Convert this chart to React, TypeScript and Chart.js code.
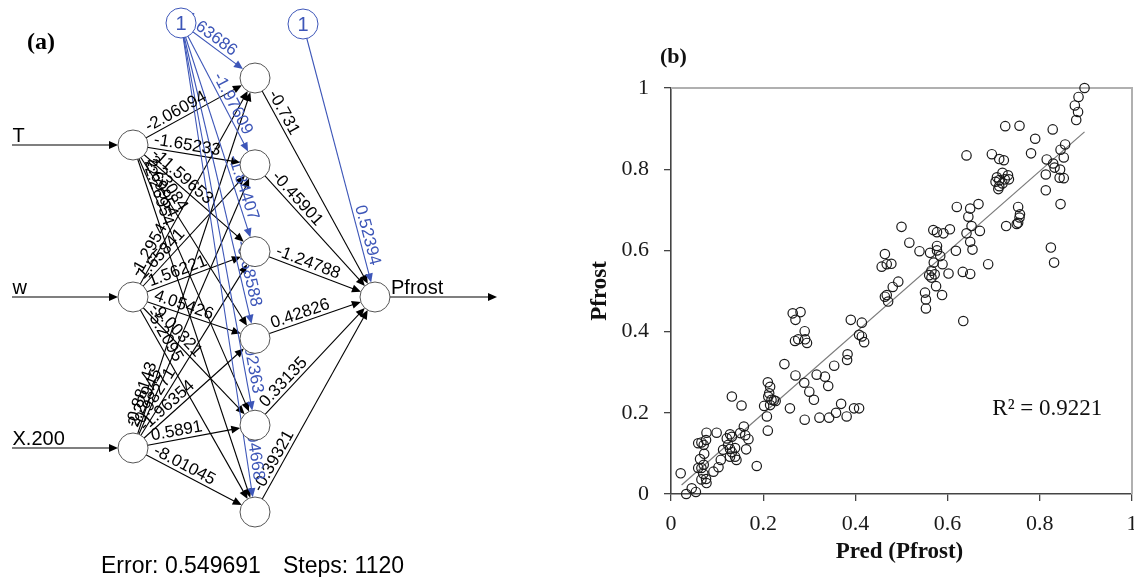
import React, { useEffect, useRef } from 'react';
import { Chart, registerables } from 'chart.js';
Chart.register(...registerables);

// ---------- Panel (a): neural network weights ----------
const inputNames = ['T', 'w', 'X.200'];
const outputName = 'Pfrost';
const weightsFromT = [-2.06094, -1.65233, -11.59653, 2.23084, 2.69954, -2.26954];
const weightsFromW = [-1.2954, 1.65841, 1.56221, 4.05426, -9.00321, -5.2095];
const weightsFromX200 = [-0.88143, 2.22945, -0.98271, -1.96354, 0.5891, -8.01045];
const biasToHidden = [-1.63686, -1.97609, -1.84407, -0.68588, 1.02363, -0.94668];
const hiddenToOutput = [-0.731, -0.45901, -1.24788, 0.42826, 0.33135, -0.39321];
const biasToOutput = 0.52394;
const errorValue = 0.549691;
const stepsValue = 1120;

// ---------- Panel (b): predicted vs observed ----------
const predX = [
  0.021, 0.033, 0.045, 0.054, 0.059, 0.066, 0.071, 0.077, 0.076, 0.072,
  0.063, 0.059, 0.066, 0.071, 0.070, 0.076, 0.066, 0.077, 0.092, 0.103,
  0.108, 0.099, 0.113, 0.132, 0.153, 0.121, 0.128, 0.132, 0.124, 0.128,
  0.132, 0.139, 0.142, 0.128, 0.139, 0.150, 0.158, 0.161, 0.168, 0.163,
  0.186, 0.210, 0.215, 0.213, 0.211, 0.218, 0.223, 0.227, 0.215, 0.202,
  0.208, 0.210, 0.246, 0.264, 0.281, 0.270, 0.290, 0.269, 0.276, 0.291,
  0.295, 0.270, 0.258, 0.289, 0.300, 0.310, 0.290, 0.316, 0.322, 0.334,
  0.341, 0.343, 0.354, 0.358, 0.369, 0.381, 0.382, 0.383, 0.390, 0.397,
  0.408, 0.414, 0.408, 0.414, 0.419,
  0.468, 0.471, 0.464, 0.481, 0.493, 0.551, 0.553, 0.553, 0.575, 0.588,
  0.634, 0.464, 0.457, 0.468, 0.478, 0.500, 0.517, 0.539, 0.562, 0.577,
  0.577, 0.584, 0.570, 0.589, 0.565, 0.560, 0.572, 0.565, 0.602, 0.633,
  0.649, 0.569, 0.577, 0.591, 0.605, 0.620, 0.649, 0.667, 0.645, 0.652,
  0.641, 0.670, 0.649, 0.654, 0.688, 0.618, 0.641, 0.696, 0.712, 0.722,
  0.725, 0.756, 0.719, 0.731, 0.707, 0.712, 0.724, 0.704, 0.733, 0.712,
  0.719, 0.710, 0.753, 0.757, 0.756, 0.753, 0.750, 0.727, 0.781, 0.790,
  0.828, 0.855, 0.845, 0.852, 0.815, 0.829, 0.832, 0.844, 0.813, 0.843,
  0.852, 0.813, 0.845, 0.824, 0.831, 0.897, 0.884, 0.876, 0.883, 0.879,
];
const obsY = [
  0.051, 0.000, 0.014, 0.005, 0.125, 0.127, 0.121, 0.151, 0.133, 0.099,
  0.086, 0.064, 0.064, 0.072, 0.050, 0.037, 0.036, 0.027, 0.055, 0.066,
  0.084, 0.151, 0.109, 0.240, 0.218, 0.137, 0.147, 0.141, 0.121, 0.111,
  0.103, 0.092, 0.084, 0.092, 0.113, 0.150, 0.166, 0.145, 0.135, 0.110,
  0.069, 0.275, 0.264, 0.248, 0.240, 0.232, 0.231, 0.229, 0.219, 0.217,
  0.191, 0.156, 0.320, 0.445, 0.448, 0.429, 0.401, 0.377, 0.381, 0.381,
  0.372, 0.292, 0.211, 0.274, 0.252, 0.232, 0.183, 0.294, 0.188, 0.289,
  0.266, 0.188, 0.316, 0.200, 0.222, 0.191, 0.330, 0.344, 0.429, 0.211,
  0.211, 0.422, 0.392, 0.388, 0.374,
  0.490, 0.474, 0.486, 0.510, 0.523, 0.496, 0.479, 0.457, 0.512, 0.490,
  0.426, 0.591, 0.560, 0.566, 0.567, 0.658, 0.619, 0.598, 0.594, 0.611,
  0.600, 0.586, 0.570, 0.566, 0.550, 0.539, 0.541, 0.533, 0.543, 0.547,
  0.542, 0.650, 0.645, 0.642, 0.652, 0.707, 0.703, 0.714, 0.683, 0.660,
  0.642, 0.648, 0.621, 0.602, 0.566, 0.599, 0.834, 0.837, 0.825, 0.822,
  0.906, 0.907, 0.791, 0.785, 0.780, 0.773, 0.775, 0.769, 0.775, 0.758,
  0.765, 0.751, 0.707, 0.689, 0.681, 0.668, 0.665, 0.660, 0.839, 0.875,
  0.898, 0.861, 0.848, 0.829, 0.824, 0.814, 0.804, 0.799, 0.787, 0.779,
  0.778, 0.748, 0.714, 0.607, 0.570, 1.000, 0.978, 0.957, 0.941, 0.921,
];
const trendX = [0.023, 0.897];
const trendY = [0.022, 0.892];
const rSquared = '0.9221';
const xAxisTitle = 'Pred (Pfrost)';
const yAxisTitle = 'Pfrost';

// ---------- layout (diagram units = px of left canvas) ----------
const NET = {
  w: 540, h: 577, inX: 133, hidX: 255, outX: 375,
  inY: [145, 297, 448], hidTop: 78, hidBottom: 512, outY: 297,
  bias1: [181, 23], bias2: [303, 24], r: 15,
};
const BLUE = '#3d56b8';
const SANS = '"Liberation Sans", Arial, sans-serif';
const SERIF = '"Liberation Serif", "Times New Roman", serif';

const fmt = (v: number) => String(parseFloat(v.toFixed(5)));
const hiddenY = (j: number) => NET.hidTop + (j * (NET.hidBottom - NET.hidTop)) / (biasToHidden.length - 1);

const netPlugin = {
  id: 'netPlugin',
  beforeDatasetsDraw(chart: any) {
    const ctx = chart.ctx;
    const sx = chart.scales.x, sy = chart.scales.y;
    const P = (x: number, y: number) => [sx.getPixelForValue(x), sy.getPixelForValue(y)];
    const R = NET.r;

    const arrowLine = (a: number[], tip: number[], color: string) => {
      const dx = tip[0] - a[0], dy = tip[1] - a[1];
      const L = Math.hypot(dx, dy); const ux = dx / L, uy = dy / L;
      ctx.strokeStyle = color; ctx.lineWidth = 1.1;
      ctx.beginPath(); ctx.moveTo(a[0], a[1]); ctx.lineTo(tip[0] - ux * 5, tip[1] - uy * 5); ctx.stroke();
      const hl = 9, hw = 4;
      ctx.fillStyle = color;
      ctx.beginPath();
      ctx.moveTo(tip[0], tip[1]);
      ctx.lineTo(tip[0] - ux * hl - uy * hw, tip[1] - uy * hl + ux * hw);
      ctx.lineTo(tip[0] - ux * hl + uy * hw, tip[1] - uy * hl - ux * hw);
      ctx.closePath(); ctx.fill();
    };

    const labels: any[] = [];
    const edge = (a: number[], b: number[], color: string, w: number, mode: 'start' | 'end') => {
      const dx = b[0] - a[0], dy = b[1] - a[1];
      const L = Math.hypot(dx, dy); const ux = dx / L, uy = dy / L;
      arrowLine(a, [b[0] - ux * R, b[1] - uy * R], color);
      const ang = Math.atan2(dy, dx);
      if (mode === 'start') labels.push({ x: a[0] + ux * 20, y: a[1] + uy * 20, ang, align: 'left', color, text: fmt(w) });
      else labels.push({ x: b[0] - ux * 31, y: b[1] - uy * 31, ang, align: 'right', color, text: fmt(w) });
    };

    const inW = [weightsFromT, weightsFromW, weightsFromX200];
    inputNames.forEach((_, i) => {
      hiddenToOutput.forEach((__, j) => {
        edge(P(NET.inX, NET.inY[i]), P(NET.hidX, hiddenY(j)), '#000', inW[i][j], 'start');
      });
    });
    hiddenToOutput.forEach((w, j) => edge(P(NET.hidX, hiddenY(j)), P(NET.outX, NET.outY), '#000', w, 'start'));
    biasToHidden.forEach((w, j) => edge(P(NET.bias1[0], NET.bias1[1]), P(NET.hidX, hiddenY(j)), BLUE, w, 'end'));
    edge(P(NET.bias2[0], NET.bias2[1]), P(NET.outX, NET.outY), BLUE, biasToOutput, 'end');

    // input / output arrows
    inputNames.forEach((name, i) => {
      const s = P(12, NET.inY[i]); const t = P(NET.inX - R, NET.inY[i]);
      arrowLine(s, t, '#000');
      ctx.fillStyle = '#000'; ctx.font = `20px ${SANS}`; ctx.textAlign = 'left'; ctx.textBaseline = 'alphabetic';
      ctx.fillText(name, s[0] + 0.5, s[1] - 3.5);
    });
    const o = P(NET.outX, NET.outY); const ot = P(497, NET.outY);
    arrowLine(o, ot, '#000');
    ctx.fillStyle = '#000'; ctx.font = `20px ${SANS}`; ctx.textAlign = 'left'; ctx.textBaseline = 'alphabetic';
    ctx.fillText(outputName, o[0] + 16, o[1] - 3.5);

    // weight labels
    ctx.font = `17px ${SANS}`;
    ctx.textBaseline = 'bottom';
    labels.forEach((l) => {
      ctx.save();
      ctx.translate(l.x, l.y);
      ctx.rotate(l.ang);
      ctx.fillStyle = l.color;
      ctx.textAlign = l.align;
      ctx.fillText(l.text, 0, 0);
      ctx.restore();
    });
  },
  afterDatasetsDraw(chart: any) {
    const ctx = chart.ctx;
    const sx = chart.scales.x, sy = chart.scales.y;
    ctx.save();
    ctx.fillStyle = BLUE; ctx.font = `20px ${SANS}`; ctx.textAlign = 'center'; ctx.textBaseline = 'middle';
    [NET.bias1, NET.bias2].forEach((b) => ctx.fillText('1', sx.getPixelForValue(b[0]), sy.getPixelForValue(b[1]) + 1));
    ctx.fillStyle = '#000'; ctx.font = `bold 24px ${SERIF}`; ctx.textAlign = 'left';
    ctx.fillText('(a)', 27, 42.5);
    ctx.font = `23px ${SANS}`; ctx.textBaseline = 'alphabetic';
    ctx.fillText(`Error: ${errorValue}`, 101, 573);
    ctx.fillText(`Steps: ${stepsValue}`, 283, 573);
    ctx.restore();
  },
};

const scatterPlugin = {
  id: 'scatterDecor',
  beforeDatasetsDraw(chart: any) {
    const { ctx, chartArea: a } = chart;
    ctx.save();
    ctx.strokeStyle = '#b0b0b0'; ctx.lineWidth = 2;
    ctx.beginPath(); ctx.moveTo(a.left, a.top); ctx.lineTo(a.right, a.top); ctx.lineTo(a.right, a.bottom); ctx.stroke();
    ctx.restore();
  },
  afterDraw(chart: any) {
    const { ctx, chartArea: a } = chart;
    const sx = chart.scales.x, sy = chart.scales.y;
    ctx.save();
    ctx.fillStyle = '#111';
    ctx.font = `bold 22px ${SERIF}`; ctx.textAlign = 'left'; ctx.textBaseline = 'middle';
    ctx.fillText('(b)', 120, 57.5);
    ctx.textAlign = 'center';
    ctx.font = `bold 23px ${SERIF}`;
    ctx.fillText(xAxisTitle, (a.left + a.right) / 2 - 2, 552);
    ctx.save();
    ctx.translate(60, (a.top + a.bottom) / 2);
    ctx.rotate(-Math.PI / 2);
    ctx.fillText(yAxisTitle, 0, 0);
    ctx.restore();
    ctx.font = `23px ${SERIF}`; ctx.textAlign = 'left';
    ctx.fillText(`R\u00B2 = ${rSquared}`, sx.getPixelForValue(0.697), sy.getPixelForValue(0.21));
    ctx.restore();
  },
};

export default function App() {
  const refA = useRef<HTMLCanvasElement>(null);
  const refB = useRef<HTMLCanvasElement>(null);

  useEffect(() => {
    const nodePts: { x: number; y: number }[] = [];
    const nodeColors: string[] = [];
    NET.inY.forEach((y) => { nodePts.push({ x: NET.inX, y }); nodeColors.push('#555'); });
    hiddenToOutput.forEach((_, j) => { nodePts.push({ x: NET.hidX, y: hiddenY(j) }); nodeColors.push('#555'); });
    nodePts.push({ x: NET.outX, y: NET.outY }); nodeColors.push('#555');
    nodePts.push({ x: NET.bias1[0], y: NET.bias1[1] }); nodeColors.push(BLUE);
    nodePts.push({ x: NET.bias2[0], y: NET.bias2[1] }); nodeColors.push(BLUE);

    const chartA = new Chart(refA.current as HTMLCanvasElement, {
      type: 'scatter',
      data: {
        datasets: [{
          data: nodePts,
          pointRadius: 15,
          pointHoverRadius: 15,
          pointBackgroundColor: '#ffffff',
          pointBorderColor: nodeColors,
          pointBorderWidth: 1,
          clip: false,
        } as any],
      },
      options: {
        responsive: false,
        animation: false,
        devicePixelRatio: 1,
        events: [],
        layout: { padding: 0, autoPadding: false },
        plugins: { legend: { display: false }, tooltip: { enabled: false } },
        scales: {
          x: { type: 'linear', display: false, min: 0, max: NET.w },
          y: { type: 'linear', display: false, min: 0, max: NET.h, reverse: true },
        },
      } as any,
      plugins: [netPlugin],
    });

    const tickFont = { family: SERIF, size: 22 };
    const chartB = new Chart(refB.current as HTMLCanvasElement, {
      type: 'scatter',
      data: {
        datasets: [
          {
            data: predX.map((x, i) => ({ x, y: obsY[i] })),
            pointRadius: 4.7,
            pointHoverRadius: 4.7,
            pointBackgroundColor: 'rgba(0,0,0,0)',
            pointBorderColor: '#1a1a1a',
            pointBorderWidth: 1.2,
            clip: false,
          } as any,
          {
            data: trendX.map((x, i) => ({ x, y: trendY[i] })),
            showLine: true,
            borderColor: '#7a7a7a',
            borderWidth: 1.2,
            pointRadius: 0,
          } as any,
        ],
      },
      options: {
        responsive: false,
        animation: false,
        devicePixelRatio: 1,
        events: [],
        layout: { padding: { left: 0, right: 2, top: 88, bottom: 0 }, autoPadding: false },
        plugins: { legend: { display: false }, tooltip: { enabled: false } },
        scales: {
          x: {
            type: 'linear', min: 0, max: 1,
            afterFit: (s: any) => { s.height = 83; s.paddingLeft = 0; s.paddingRight = 0; },
            border: { display: true, color: '#444', width: 1.6 },
            grid: { display: true, drawOnChartArea: false, drawTicks: true, tickLength: 7, color: '#444', lineWidth: 1.3 },
            ticks: { stepSize: 0.2, color: '#1a1a1a', font: tickFont, padding: 10, maxRotation: 0,
              callback: (v: any) => String(parseFloat(Number(v).toFixed(1))) },
          },
          y: {
            type: 'linear', min: 0, max: 1,
            afterFit: (s: any) => { s.width = 131; s.paddingTop = 0; s.paddingBottom = 0; },
            border: { display: true, color: '#444', width: 1.6 },
            grid: { display: true, drawOnChartArea: false, drawTicks: true, tickLength: 7, color: '#444', lineWidth: 1.3 },
            ticks: { stepSize: 0.2, color: '#1a1a1a', font: tickFont, padding: 15,
              callback: (v: any) => String(parseFloat(Number(v).toFixed(1))) },
          },
        },
      } as any,
      plugins: [scatterPlugin],
    });

    return () => { chartA.destroy(); chartB.destroy(); };
  }, []);

  return (
    <div style={{ position: 'fixed', left: 0, top: 0, width: 1134, height: 577, background: '#fff', overflow: 'hidden' }}>
      <canvas ref={refA} width={540} height={577} style={{ position: 'absolute', left: 0, top: 0, width: 540, height: 577 }} />
      <canvas ref={refB} width={594} height={577} style={{ position: 'absolute', left: 540, top: 0, width: 594, height: 577 }} />
    </div>
  );
}
